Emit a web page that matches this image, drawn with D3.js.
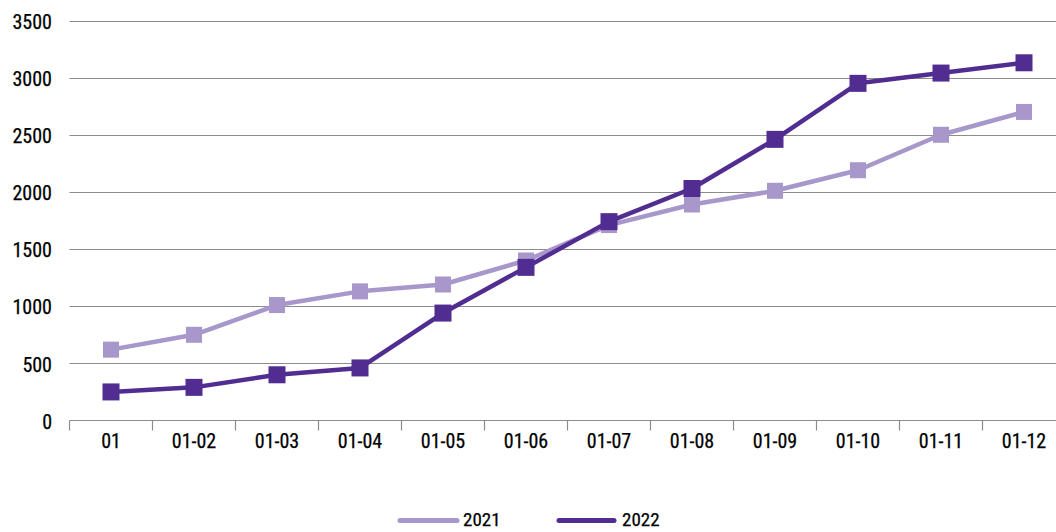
<!DOCTYPE html>
<html><head><meta charset="utf-8">
<script src="https://cdn.jsdelivr.net/npm/d3@7"></script>
<style>
html,body{margin:0;padding:0;background:#fff;}
svg{display:block;}
text{font-family:"Liberation Sans Narrow","Roboto Condensed","DejaVu Sans Condensed","Open Sans",sans-serif;fill:#000;stroke:#000;stroke-width:0.25px;}
</style></head>
<body>
<svg id="chart" width="1056" height="532"></svg>
<script>
const categories = ["01","01-02","01-03","01-04","01-05","01-06","01-07","01-08","01-09","01-10","01-11","01-12"];
const series2021 = [620, 750, 1010, 1130, 1190, 1400, 1710, 1890, 2010, 2190, 2500, 2700];
const series2022 = [250, 290, 400, 460, 940, 1340, 1740, 2030, 2460, 2950, 3040, 3130];
const yTicks = [0, 500, 1000, 1500, 2000, 2500, 3000, 3500];
const seriesNames = ["2021", "2022"];
const seriesColors = ["#a797ca", "#512d91"];

const svg = d3.select("#chart");
const left = 69.5, band = 83;
const x = d3.scaleBand().domain(categories).range([left, left + band * categories.length]).padding(0);
const y = d3.scaleLinear().domain([0, 3500]).range([420.5, 20.5]);

// gridlines
svg.append("g").selectAll("line").data(yTicks.filter(d => d > 0)).join("line")
  .attr("x1", left).attr("x2", 1056)
  .attr("y1", d => Math.round(y(d)) + 0.5).attr("y2", d => Math.round(y(d)) + 0.5)
  .attr("stroke", "#8c8c8c").attr("stroke-width", 1.2);

// y labels
svg.append("g").selectAll("text").data(yTicks).join("text")
  .attr("x", 52).attr("y", d => y(d) + 3)
  .attr("text-anchor", "end").attr("dominant-baseline", "middle")
  .attr("font-size", 20).text(d => d);

// x axis
const gx = svg.append("g").attr("transform", `translate(0,${y(0)})`);
gx.append("line").attr("x1", left).attr("x2", 1056).attr("y1", 0).attr("y2", 0)
  .attr("stroke", "#8c8c8c").attr("stroke-width", 1.2);
gx.selectAll(".tk").data(categories).join("line").attr("class", "tk")
  .attr("x1", d => x(d)).attr("x2", d => x(d)).attr("y1", 0).attr("y2", 10)
  .attr("stroke", "#8c8c8c").attr("stroke-width", 1.2);
gx.selectAll(".lb").data(categories).join("text").attr("class", "lb")
  .attr("x", d => x(d) + x.bandwidth() / 2).attr("y", 22)
  .attr("text-anchor", "middle").attr("dominant-baseline", "middle")
  .attr("font-size", 20).text(d => d);

// series
const data = [series2021, series2022];
const markerSize = [16, 17];
const line = d3.line().x((d, i) => x(categories[i]) + x.bandwidth() / 2).y(d => y(d));
data.forEach((vals, si) => {
  const g = svg.append("g");
  g.append("path").datum(vals).attr("d", line)
    .attr("fill", "none").attr("stroke", seriesColors[si]).attr("stroke-width", 4.5)
    .attr("stroke-linejoin", "round");
  const s = markerSize[si];
  g.selectAll("rect").data(vals).join("rect")
    .attr("x", (d, i) => x(categories[i]) + x.bandwidth() / 2 - s / 2)
    .attr("y", d => y(d) - s / 2)
    .attr("width", s).attr("height", s)
    .attr("fill", seriesColors[si]);
});

// legend
const legendPos = [{x1: 400, x2: 457, tx: 463}, {x1: 559, x2: 614, tx: 622}];
const lg = svg.append("g");
seriesNames.forEach((n, i) => {
  const p = legendPos[i];
  lg.append("line").attr("x1", p.x1).attr("x2", p.x2).attr("y1", 520.5).attr("y2", 520.5)
    .attr("stroke", seriesColors[i]).attr("stroke-width", 5).attr("stroke-linecap", "round");
  lg.append("text").attr("x", p.tx).attr("y", 526)
    .attr("font-size", 19).text(n);
});
</script>
</body></html>
